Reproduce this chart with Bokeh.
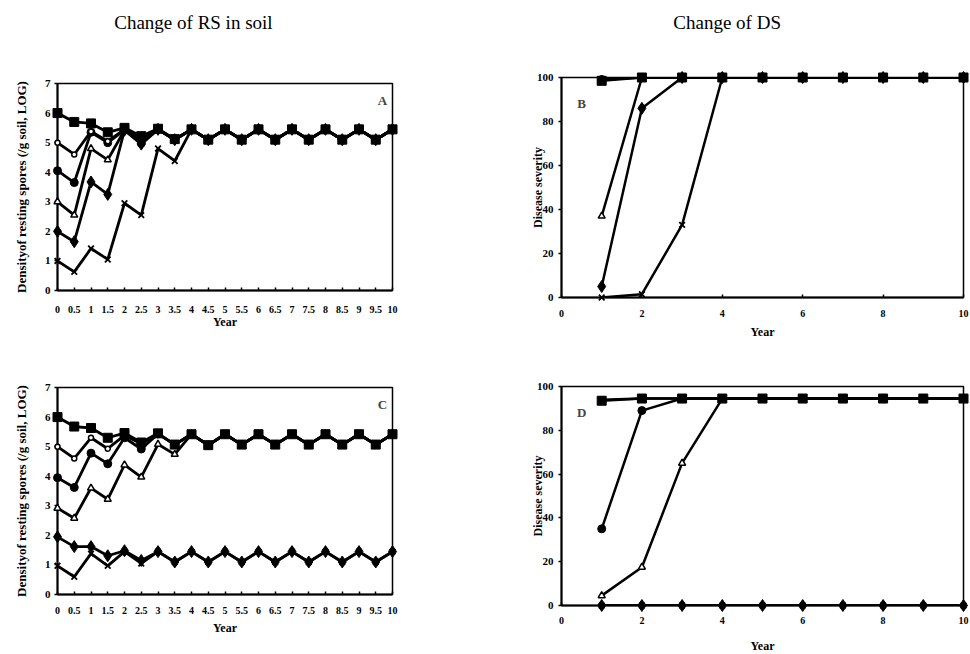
from bokeh.plotting import figure
from bokeh.layouts import column, row
from bokeh.models import FixedTicker, Label, Range1d
from bokeh.embed import file_html
from bokeh.resources import INLINE

# ---------------- data ----------------
half_years = [0, 0.5, 1, 1.5, 2, 2.5, 3, 3.5, 4, 4.5, 5, 5.5, 6, 6.5, 7, 7.5, 8, 8.5, 9, 9.5, 10]
half_year_labels = ["0", "0.5", "1", "1.5", "2", "2.5", "3", "3.5", "4", "4.5", "5", "5.5",
                    "6", "6.5", "7", "7.5", "8", "8.5", "9", "9.5", "10"]
rs_ticks = [0, 1, 2, 3, 4, 5, 6, 7]

years = [1, 2, 3, 4, 5, 6, 7, 8, 9, 10]
year_ticks = [0, 2, 4, 6, 8, 10]
ds_ticks = [0, 20, 40, 60, 80, 100]

# Panel A: density of resting spores (log), six initial levels
a_s6 = [6.0, 5.7, 5.65, 5.35, 5.5, 5.22, 5.47, 5.12, 5.45, 5.1, 5.45, 5.1, 5.45, 5.1, 5.45, 5.1, 5.45, 5.1, 5.45, 5.1, 5.45]
a_s5 = [5.0, 4.6, 5.38, 5.05, 5.45, 5.12, 5.45, 5.1, 5.45, 5.1, 5.45, 5.1, 5.45, 5.1, 5.45, 5.1, 5.45, 5.1, 5.45, 5.1, 5.45]
a_s4 = [4.05, 3.65, 5.35, 5.0, 5.42, 4.98, 5.45, 5.1, 5.45, 5.1, 5.45, 5.1, 5.45, 5.1, 5.45, 5.1, 5.45, 5.1, 5.45, 5.1, 5.45]
a_s3 = [3.0, 2.55, 4.8, 4.42, 5.42, 5.05, 5.45, 5.1, 5.45, 5.1, 5.45, 5.1, 5.45, 5.1, 5.45, 5.1, 5.45, 5.1, 5.45, 5.1, 5.45]
a_s2 = [2.0, 1.65, 3.67, 3.25, 5.42, 4.95, 5.45, 5.1, 5.45, 5.1, 5.45, 5.1, 5.45, 5.1, 5.45, 5.1, 5.45, 5.1, 5.45, 5.1, 5.45]
a_s1 = [1.0, 0.63, 1.42, 1.05, 2.95, 2.55, 4.8, 4.38, 5.45, 5.1, 5.45, 5.1, 5.45, 5.1, 5.45, 5.1, 5.45, 5.1, 5.45, 5.1, 5.45]

# Panel B: disease severity
b_s6 = [98.5, 100, 100, 100, 100, 100, 100, 100, 100, 100]
b_s5 = [99.5, 100, 100, 100, 100, 100, 100, 100, 100, 100]
b_s4 = [99, 100, 100, 100, 100, 100, 100, 100, 100, 100]
b_s3 = [37, 100, 100, 100, 100, 100, 100, 100, 100, 100]
b_s2 = [5, 86, 100, 100, 100, 100, 100, 100, 100, 100]
b_s1 = [0, 1.5, 33, 100, 100, 100, 100, 100, 100, 100]

# Panel C: density of resting spores (log)
c_s6 = [6.0, 5.68, 5.63, 5.3, 5.46, 5.14, 5.45, 5.07, 5.42, 5.05, 5.42, 5.07, 5.42, 5.07, 5.42, 5.07, 5.42, 5.07, 5.42, 5.07, 5.42]
c_s5 = [5.0, 4.6, 5.3, 4.93, 5.38, 5.1, 5.43, 5.07, 5.42, 5.05, 5.42, 5.07, 5.42, 5.07, 5.42, 5.07, 5.42, 5.07, 5.42, 5.07, 5.42]
c_s4 = [3.95, 3.62, 4.78, 4.42, 5.3, 4.92, 5.43, 5.07, 5.42, 5.05, 5.42, 5.07, 5.42, 5.07, 5.42, 5.07, 5.42, 5.07, 5.42, 5.07, 5.42]
c_s3 = [2.92, 2.58, 3.6, 3.22, 4.38, 3.97, 5.08, 4.74, 5.42, 5.05, 5.42, 5.07, 5.42, 5.07, 5.42, 5.07, 5.42, 5.07, 5.42, 5.07, 5.42]
c_s2 = [1.95, 1.62, 1.62, 1.31, 1.48, 1.15, 1.45, 1.1, 1.45, 1.1, 1.45, 1.1, 1.45, 1.1, 1.45, 1.1, 1.45, 1.1, 1.45, 1.1, 1.45]
c_s1 = [0.97, 0.6, 1.38, 0.97, 1.45, 1.05, 1.45, 1.1, 1.45, 1.1, 1.45, 1.1, 1.45, 1.1, 1.45, 1.1, 1.45, 1.1, 1.45, 1.1, 1.45]

# Panel D: disease severity
d_s6 = [93.5, 94.5, 94.5, 94.5, 94.5, 94.5, 94.5, 94.5, 94.5, 94.5]
d_s5 = [94, 94.5, 94.5, 94.5, 94.5, 94.5, 94.5, 94.5, 94.5, 94.5]
d_s4 = [35, 89, 94.5, 94.5, 94.5, 94.5, 94.5, 94.5, 94.5, 94.5]
d_s3 = [4.5, 17.5, 65, 94.5, 94.5, 94.5, 94.5, 94.5, 94.5, 94.5]
d_s2 = [0, 0, 0, 0, 0, 0, 0, 0, 0, 0]
d_s1 = [0, 0, 0, 0, 0, 0, 0, 0, 0, 0]

titles = ["Change of RS in soil", "Change of DS"]
rs_label = "Densityof resting spores (/g soil, LOG)"
ds_label = "Disease severity"
x_label = "Year"

# ---------------- styling ----------------
SERIF = "Liberation Serif"
MARK = {
    "s1": dict(marker="x", size=8, fill_color="black", line_width=1.8),
    "s2": dict(marker="diamond", size=12, fill_color="black", line_width=1),
    "s3": dict(marker="triangle", size=7, fill_color="white", line_width=1.5),
    "s4": dict(marker="circle", size=8, fill_color="black", line_width=1),
    "s5": dict(marker="circle", size=5, fill_color="white", line_width=1.5),
    "s6": dict(marker="square", size=9, fill_color="black", line_width=1),
}

W_LEFT, W_RIGHT = 520, 449


def make_fig(fw, fh, ml, mr, mt, mb, yr):
    p = figure(frame_width=fw, frame_height=fh, min_border_left=ml, min_border_right=mr,
               min_border_top=mt, min_border_bottom=mb, x_range=Range1d(0, 10), y_range=Range1d(*yr),
               output_backend="svg", toolbar_location=None)
    p.xgrid.visible = False
    p.ygrid.visible = False
    p.outline_line_color = "black"
    p.outline_line_width = 1.5
    p.outline_line_alpha = 1
    p.background_fill_color = "white"
    p.border_fill_color = "white"
    for ax in (p.xaxis[0], p.yaxis[0]):
        ax.axis_line_width = 2
        ax.axis_line_color = "black"
        ax.major_tick_line_color = "black"
        ax.major_tick_line_width = 1.5
        ax.minor_tick_line_color = None
        ax.major_label_text_font = SERIF
        ax.major_label_text_font_style = "bold"
        ax.major_label_text_font_size = "10px"
        ax.major_label_text_color = "black"
        ax.axis_label_text_font = SERIF
        ax.axis_label_text_font_style = "bold"
        ax.axis_label_text_font_size = "12px"
        ax.axis_label_text_color = "black"
    p.yaxis[0].major_label_text_font_size = "11px"
    p.xaxis[0].major_tick_in = 3
    p.xaxis[0].major_tick_out = 0
    p.yaxis[0].major_tick_in = 0
    p.yaxis[0].major_tick_out = 3
    return p


def add_series(p, x, series, lw):
    for key, ys in series:
        p.line(x, ys, line_color="black", line_width=lw)
    for key, ys in series:
        st = MARK[key]
        r = p.scatter(x, ys, marker=st["marker"], size=st["size"], fill_color=st["fill_color"],
                      line_color="black", line_width=st["line_width"])
        r.level = "overlay"


def rs_panel(series, letter, mt, mb, fh, lab_standoff, year_standoff):
    p = make_fig(335, fh, 57, W_LEFT - 57 - 335, mt, mb, (0, 7))
    p.xaxis[0].ticker = FixedTicker(ticks=half_years)
    p.xaxis[0].major_label_overrides = {t: s for t, s in zip(half_years, half_year_labels)}
    p.xaxis[0].major_label_standoff = lab_standoff
    p.xaxis[0].axis_label = x_label
    p.xaxis[0].axis_label_standoff = year_standoff
    p.yaxis[0].ticker = FixedTicker(ticks=rs_ticks)
    p.yaxis[0].major_label_standoff = 4
    p.yaxis[0].axis_label = rs_label
    p.yaxis[0].axis_label_text_font_size = "13px"
    p.yaxis[0].axis_label_standoff = 13
    add_series(p, half_years, series, 2.8)
    p.add_layout(Label(x=9.7, y=6.42, text=letter, text_font=SERIF, text_font_style="bold",
                       text_font_size="13px", text_align="center", text_baseline="middle"))
    return p


def ds_panel(series, letter, mt, mb, fh, lab_standoff, year_standoff):
    p = make_fig(402, fh, 41, W_RIGHT - 41 - 402, mt, mb, (0, 100))
    p.xaxis[0].ticker = FixedTicker(ticks=year_ticks)
    p.xaxis[0].major_label_standoff = lab_standoff
    p.xaxis[0].axis_label = x_label
    p.xaxis[0].axis_label_standoff = year_standoff
    p.yaxis[0].ticker = FixedTicker(ticks=ds_ticks)
    p.yaxis[0].major_label_standoff = 5
    p.yaxis[0].axis_label = ds_label
    p.yaxis[0].axis_label_standoff = -11
    add_series(p, years, series, 2.5)
    p.add_layout(Label(x=0.5, y=88, text=letter, text_font=SERIF, text_font_style="bold",
                       text_font_size="13px", text_align="center", text_baseline="middle"))
    return p


def title_fig(width, text, cx):
    t = figure(width=width, height=44, x_range=Range1d(0, width), y_range=Range1d(0, 44),
               x_axis_type=None, y_axis_type=None, min_border=0, output_backend="svg",
               toolbar_location=None)
    t.xgrid.visible = False
    t.ygrid.visible = False
    t.outline_line_color = None
    t.add_layout(Label(x=cx, y=22, text=text, text_font=SERIF, text_font_size="19px",
                       text_align="center", text_baseline="middle", text_color="black"))
    return t


tA = title_fig(W_LEFT, titles[0], 211)
tB = title_fig(W_RIGHT, titles[1], 705 - W_LEFT)

# left column: frames A 83-290, C 387-594 ; right column: frames B 77-297, D 385-604
pA = rs_panel([("s1", a_s1), ("s2", a_s2), ("s3", a_s3), ("s4", a_s4), ("s5", a_s5), ("s6", a_s6)],
              "A", 39, 50, 207, 15, -1)
pC = rs_panel([("s1", c_s1), ("s2", c_s2), ("s3", c_s3), ("s4", c_s4), ("s5", c_s5), ("s6", c_s6)],
              "C", 47, 58, 207, 12, 4)
pB = ds_panel([("s1", b_s1), ("s2", b_s2), ("s3", b_s3), ("s4", b_s4), ("s5", b_s5), ("s6", b_s6)],
              "B", 33, 43, 220, 12, 5)
pD = ds_panel([("s1", d_s1), ("s2", d_s2), ("s3", d_s3), ("s4", d_s4), ("s5", d_s5), ("s6", d_s6)],
              "D", 45, 48, 219, 11, 12)

layout = row(column(tA, pA, pC), column(tB, pB, pD))

with open("out.html", "w") as f:
    f.write(file_html(layout, INLINE))
